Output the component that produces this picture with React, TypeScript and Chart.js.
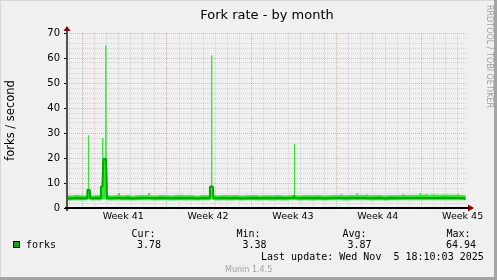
import { useEffect, useRef } from 'react';
import { Chart, registerables } from 'chart.js';

Chart.register(...registerables);

// time axis in days, relative to Monday of week 41 (first red line)
const days = [
  -1.24, -0.9, -0.5, -0.1, 0.3, 0.42, 0.44, 0.5, 0.52, 0.54, 0.64,
  0.68, 0.9, 1.2, 1.52, 1.56, 1.68, 1.7, 1.72, 1.76, 1.94, 1.96, 1.98,
  2.02, 2.06, 2.4, 2.8, 3.02, 3.05, 3.08, 3.4, 3.8, 4.2,
  4.6, 5.0, 5.5, 5.53, 5.56, 6.0, 6.5, 7.0, 7.5, 8.0,
  8.5, 9.0, 9.5, 10.0, 10.5, 10.55, 10.67, 10.69, 10.71, 10.8, 10.84,
  11.2, 11.7, 12.2, 12.7, 13.2, 13.7, 14.2, 14.7, 15.2, 15.7,
  16.2, 16.7, 17.2, 17.48, 17.5, 17.52, 17.54, 17.58, 18.0, 18.5,
  19.0, 19.5, 20.0, 20.5, 21.0, 21.37, 21.4, 21.43, 21.8, 22.2,
  22.67, 22.7, 22.73, 23.1, 23.47, 23.5, 23.53, 24.0, 24.5, 25.0,
  25.5, 26.0, 26.47, 26.5, 26.53, 27.0, 27.5, 27.87, 27.9, 27.93,
  28.37, 28.4, 28.43, 28.97, 29.0, 29.03, 29.5, 30.0, 30.5, 30.97,
  31.0, 31.03, 31.4, 31.65,
];

const minValues = [
  3.3, 3.2, 3.3, 3.2, 3.3, 3.3, 3.5, 3.6, 3.6, 3.6, 3.5,
  3.3, 3.2, 3.3, 3.2, 3.5, 3.6, 3.6, 3.6, 3.6, 3.6, 3.6, 3.6,
  3.5, 3.3, 3.2, 3.3, 3.3, 3.4, 3.3, 3.2, 3.3, 3.2,
  3.3, 3.3, 3.3, 3.4, 3.3, 3.2, 3.3, 3.3, 3.2, 3.3,
  3.2, 3.3, 3.2, 3.3, 3.3, 3.5, 3.6, 3.6, 3.6, 3.5, 3.3,
  3.2, 3.3, 3.2, 3.3, 3.2, 3.3, 3.3, 3.2, 3.3, 3.2,
  3.3, 3.2, 3.3, 3.3, 3.5, 3.5, 3.5, 3.3, 3.2, 3.3,
  3.2, 3.3, 3.2, 3.3, 3.3, 3.3, 3.4, 3.3, 3.2, 3.3,
  3.3, 3.4, 3.3, 3.3, 3.3, 3.4, 3.3, 3.2, 3.3, 3.2,
  3.3, 3.3, 3.3, 3.4, 3.3, 3.3, 3.3, 3.3, 3.4, 3.3,
  3.3, 3.4, 3.3, 3.3, 3.4, 3.3, 3.3, 3.3, 3.3, 3.3,
  3.4, 3.3, 3.3, 3.3,
];

const avgValues = [
  3.9, 3.8, 4.0, 3.9, 3.9, 4.0, 7.2, 7.2, 7.2, 7.2, 7.2,
  4.0, 3.9, 4.0, 3.9, 8.5, 8.5, 8.5, 8.5, 19.5, 19.5, 19.5, 19.5,
  19.5, 4.0, 3.9, 4.0, 4.0, 4.1, 4.0, 3.9, 4.0, 3.8,
  3.9, 4.0, 4.0, 4.1, 4.0, 3.9, 4.0, 3.9, 3.9, 4.0,
  3.9, 4.0, 3.8, 4.0, 3.9, 8.5, 8.5, 8.5, 8.5, 8.5, 4.0,
  3.9, 4.0, 3.9, 4.0, 3.8, 3.9, 4.0, 3.9, 4.0, 3.9,
  4.0, 3.9, 4.0, 4.0, 5.0, 5.0, 5.0, 4.0, 3.9, 4.0,
  3.9, 4.0, 3.8, 3.9, 4.0, 4.0, 4.1, 4.0, 3.9, 4.0,
  4.0, 4.1, 4.0, 4.0, 4.0, 4.0, 3.9, 3.9, 4.0, 3.8,
  4.0, 3.9, 4.0, 4.1, 4.0, 4.0, 4.0, 4.0, 4.1, 4.0,
  4.0, 4.1, 4.0, 4.0, 4.1, 4.0, 4.0, 4.1, 4.0, 4.0,
  4.1, 4.0, 3.9, 3.8,
];

const maxValues = [
  4.9, 4.8, 5.0, 4.9, 4.8, 5.0, 7.5, 7.5, 29.0, 7.5, 7.4,
  4.9, 4.8, 5.0, 4.9, 8.8, 9.0, 28.0, 9.0, 20.0, 20.0, 64.9, 20.0,
  19.8, 5.0, 4.8, 4.9, 5.0, 5.9, 4.9, 4.8, 5.0, 4.7,
  4.9, 5.0, 4.9, 6.0, 4.9, 4.8, 5.0, 4.9, 4.8, 5.1,
  4.9, 5.0, 4.7, 5.0, 4.9, 8.8, 8.8, 61.0, 8.8, 8.7, 5.0,
  4.8, 5.0, 4.9, 5.0, 4.8, 4.9, 5.0, 4.8, 4.9, 4.9,
  5.0, 4.8, 4.9, 5.0, 5.4, 25.6, 5.4, 4.9, 4.8, 5.0,
  4.9, 5.0, 4.8, 4.9, 5.0, 5.0, 5.6, 4.9, 4.9, 5.0,
  5.0, 5.8, 5.0, 5.0, 5.0, 5.5, 4.9, 4.9, 5.0, 4.8,
  5.0, 4.9, 5.0, 5.4, 5.0, 5.0, 5.1, 5.1, 5.8, 5.1,
  5.1, 5.6, 5.1, 5.1, 5.5, 5.1, 5.1, 5.2, 5.1, 5.1,
  5.6, 5.0, 5.0, 4.9,
];

const weekLabels = ['Week 41', 'Week 42', 'Week 43', 'Week 44', 'Week 45'];
const weekLabelDays = [3.4, 10.4, 17.4, 24.4, 31.4];
const weekStartDays = [0, 7, 14, 21, 28];

const legendHeaders = ['Cur:', 'Min:', 'Avg:', 'Max:'];
const legendValues = ['3.78', '3.38', '3.87', '64.94'];
const seriesName = 'forks';
const chartTitle = 'Fork rate - by month';
const yTitle = 'forks / second';
const lastUpdate = 'Last update: Wed Nov  5 18:10:03 2025';
const watermark = 'RRDTOOL / TOBI OETIKER';
const footer = 'Munin 1.4.5';

const X_MIN = -1.24;
const X_MAX = 31.76;
const Y_MAX = 70;

const DARK = '#00A800';
const BRIGHT = '#33E633';
const MGRID = 'rgba(255,0,0,0.3)';
const GRID = 'rgba(128,128,128,0.26)';

export default function App() {
  const ref = useRef<HTMLCanvasElement>(null);

  useEffect(() => {
    const canvas = ref.current;
    if (!canvas) return;

    const decor = {
      id: 'muninDecor',
      beforeDraw(chart: any) {
        const ctx = chart.ctx;
        ctx.save();
        ctx.fillStyle = '#F0F0F0';
        ctx.fillRect(0, 0, 497, 280);
        ctx.fillStyle = '#D6D6D6';
        ctx.fillRect(0, 0, 497, 1);
        ctx.fillRect(0, 0, 1, 280);
        ctx.fillStyle = '#A4A4A4';
        ctx.fillRect(0, 277, 497, 3);
        ctx.fillRect(494, 0, 3, 280);
        ctx.restore();
      },
      afterDraw(chart: any) {
        const ctx = chart.ctx;
        const { left, right, top, bottom } = chart.chartArea;
        const yb = chart.scales.y.getPixelForValue(0);
        ctx.save();
        // y axis
        ctx.fillStyle = '#505050';
        ctx.fillRect(left - 1, top - 3, 2, bottom - top + 6);
        // x axis
        ctx.fillStyle = '#000000';
        ctx.fillRect(left - 2, yb - 1, right - left + 3, 2);
        // arrows
        ctx.fillStyle = '#880000';
        ctx.beginPath();
        ctx.moveTo(left - 3.5, top - 2);
        ctx.lineTo(left + 3.5, top - 2);
        ctx.lineTo(left, top - 7);
        ctx.closePath();
        ctx.fill();
        ctx.beginPath();
        ctx.moveTo(right + 1, yb - 3.5);
        ctx.lineTo(right + 1, yb + 3.5);
        ctx.lineTo(right + 7, yb);
        ctx.closePath();
        ctx.fill();

        // title
        ctx.fillStyle = '#000';
        ctx.textAlign = 'center';
        ctx.textBaseline = 'alphabetic';
        ctx.font = '13px "DejaVu Sans"';
        ctx.fillText(chartTitle, (left + right) / 2, 19);

        // y title
        ctx.save();
        ctx.translate(14, (top + bottom) / 2);
        ctx.rotate(-Math.PI / 2);
        ctx.font = '11.5px "DejaVu Sans"';
        ctx.fillText(yTitle, 0, 0);
        ctx.restore();

        // watermark
        ctx.save();
        ctx.translate(486.5, 5);
        ctx.rotate(Math.PI / 2);
        ctx.textAlign = 'left';
        ctx.fillStyle = '#A0A0A0';
        ctx.font = '8px "DejaVu Sans"';
        ctx.fillText(watermark, 0, 0);
        ctx.restore();

        // legend
        ctx.textAlign = 'left';
        ctx.fillStyle = '#000';
        ctx.font = '10px "DejaVu Sans Mono"';
        const headerX = [131.5, 236.5, 342.5, 446.5];
        const valueX = [137, 242.5, 347.5, 446];
        legendHeaders.forEach((h, i) => ctx.fillText(h, headerX[i], 236.8));
        legendValues.forEach((v, i) => ctx.fillText(v, valueX[i], 248.2));
        ctx.fillText(seriesName, 26, 248.2);
        ctx.fillText(lastUpdate, 261, 259.5);
        ctx.fillStyle = '#000';
        ctx.fillRect(13, 241, 7, 7);
        ctx.fillStyle = DARK;
        ctx.fillRect(14, 242, 5, 5);

        // footer
        ctx.fillStyle = '#A0A0A0';
        ctx.font = '8px "DejaVu Sans"';
        ctx.fillText(footer, 225, 271.5);
        ctx.restore();
      },
    };

    const pts = (vals: number[]) => days.map((d, i) => ({ x: d, y: vals[i] }));

    const chart = new Chart(canvas, {
      type: 'line',
      data: {
        datasets: [
          {
            label: 'avg',
            data: pts(avgValues),
            borderColor: DARK,
            borderWidth: 2,
            borderJoinStyle: 'bevel',
            pointRadius: 0,
            fill: false,
          },
          {
            label: 'max',
            data: pts(maxValues),
            borderColor: BRIGHT,
            backgroundColor: BRIGHT,
            borderWidth: 1,
            borderJoinStyle: 'bevel',
            pointRadius: 0,
            fill: '+1',
          },
          {
            label: 'min',
            data: pts(minValues),
            borderColor: BRIGHT,
            borderWidth: 1,
            pointRadius: 0,
            fill: false,
          },
        ],
      } as any,
      plugins: [decor],
      options: {
        animation: false,
        responsive: false,
        devicePixelRatio: 1,
        layout: { padding: { left: 0, top: 33, right: 30, bottom: 52 } },
        plugins: {
          legend: { display: false },
          title: { display: false },
          tooltip: { enabled: false },
        },
        scales: {
          x: {
            type: 'linear',
            min: X_MIN,
            max: X_MAX,
            afterBuildTicks(scale: any) {
              const t: { value: number }[] = [];
              for (let d = Math.ceil(X_MIN); d <= Math.floor(X_MAX); d++) t.push({ value: d });
              weekLabelDays.forEach((v) => t.push({ value: v }));
              t.sort((a, b) => a.value - b.value);
              scale.ticks = t;
            },
            afterFit(scale: any) {
              scale.height = 20;
            },
            grid: {
              drawTicks: false,
              color: (c: any) => {
                const v = c.tick ? c.tick.value : 0;
                if (weekLabelDays.includes(v)) return 'rgba(0,0,0,0)';
                return weekStartDays.includes(v) ? MGRID : GRID;
              },
            },
            border: { display: false, dash: [1, 1] },
            ticks: {
              autoSkip: false,
              maxRotation: 0,
              padding: 3,
              color: '#000',
              font: { family: 'DejaVu Sans', size: 9.5 },
              callback: (v: any) => {
                const i = weekLabelDays.indexOf(Number(v));
                return i >= 0 ? weekLabels[i] : '';
              },
            },
          },
          y: {
            type: 'linear',
            min: 0,
            max: Y_MAX,
            afterFit(scale: any) {
              scale.width = 67;
            },
            grid: {
              drawTicks: true,
              tickLength: 3,
              color: (c: any) => ((c.tick ? c.tick.value : 0) % 10 === 0 ? MGRID : GRID),
              tickColor: (c: any) => ((c.tick ? c.tick.value : 0) % 10 === 0 ? '#000' : 'rgba(0,0,0,0)'),
            },
            border: { display: false, dash: [1, 1] },
            ticks: {
              stepSize: 2,
              autoSkip: false,
              padding: 4,
              color: '#000',
              font: { family: 'DejaVu Sans', size: 10 },
              callback: (v: any) => (Number(v) % 10 === 0 ? String(v) : ''),
            },
          },
        },
      } as any,
    });

    return () => chart.destroy();
  }, []);

  return (
    <div style={{ position: 'absolute', left: 0, top: 0, width: 497, height: 280 }}>
      <canvas ref={ref} width={497} height={280} style={{ display: 'block' }} />
    </div>
  );
}
